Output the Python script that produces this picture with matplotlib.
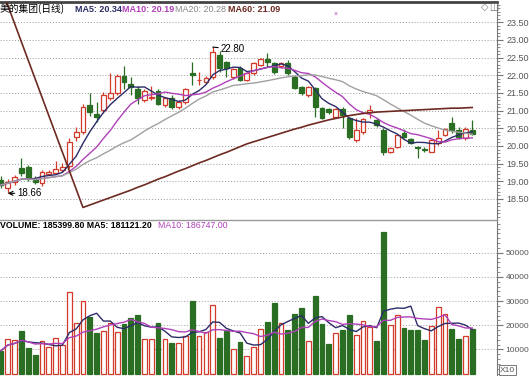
import numpy as np
import pandas as pd
import matplotlib
matplotlib.use("Agg")
import matplotlib.pyplot as plt
from matplotlib.ticker import MultipleLocator, FormatStrFormatter

plt.rcParams['font.family'] = ['Liberation Sans', 'Noto Sans CJK SC', 'DejaVu Sans']

# daily candles, 美的集团
opens  = [19.04, 18.80, 18.98, 19.38, 19.41, 19.07, 18.94, 19.21, 19.24, 19.32,
          19.42, 20.26, 20.40, 21.16, 20.91, 21.02, 21.35, 21.49, 21.98, 21.75,
          21.62, 21.30, 21.35, 21.55, 21.15, 21.35, 21.10, 21.25, 22.07, 21.86,
          21.80, 21.95, 22.58, 22.39, 21.96, 22.20, 21.87, 22.06, 22.29, 22.45,
          22.34, 22.25, 22.34, 21.96, 21.66, 21.44, 21.63, 21.07, 21.04, 20.83,
          21.04, 20.80, 20.17, 20.40, 20.96, 20.74, 20.45, 19.84, 19.98, 20.36,
          20.19, 19.98, 19.91, 19.84, 20.08, 20.31, 20.64, 20.45, 20.22, 20.45]
highs  = [19.15, 19.07, 19.18, 19.66, 19.46, 19.15, 19.32, 19.32, 19.57, 19.52,
          20.23, 20.55, 21.19, 21.50, 21.24, 21.53, 22.06, 22.04, 22.25, 21.95,
          21.70, 21.60, 21.70, 21.62, 21.40, 21.45, 21.30, 21.65, 22.39, 22.10,
          21.98, 22.80, 22.70, 22.40, 22.20, 22.25, 22.10, 22.38, 22.50, 22.62,
          22.38, 22.38, 22.43, 22.00, 21.70, 21.70, 21.66, 21.10, 21.08, 21.08,
          21.10, 20.82, 20.79, 20.80, 21.16, 20.79, 20.50, 19.96, 20.33, 20.47,
          20.22, 20.00, 19.98, 20.20, 20.45, 20.50, 20.83, 20.55, 20.55, 20.74]
lows   = [18.80, 18.66, 18.90, 19.15, 19.00, 18.92, 18.88, 19.17, 19.20, 19.27,
          19.38, 20.15, 20.35, 20.86, 20.69, 20.93, 21.30, 21.43, 21.60, 21.45,
          21.20, 21.25, 21.30, 21.15, 21.10, 21.05, 21.05, 21.20, 21.73, 21.73,
          21.75, 21.90, 22.10, 21.96, 21.90, 21.85, 21.85, 22.00, 22.25, 22.24,
          22.05, 22.20, 22.01, 21.60, 21.45, 21.40, 20.83, 20.75, 20.90, 20.80,
          20.50, 20.20, 20.12, 20.35, 20.79, 20.54, 19.74, 19.80, 19.95, 20.24,
          20.05, 19.65, 19.84, 19.82, 20.03, 20.28, 20.36, 20.19, 20.17, 20.31]
closes = [18.90, 18.99, 19.12, 19.24, 19.07, 18.98, 19.27, 19.26, 19.35, 19.41,
          20.12, 20.40, 21.10, 20.97, 20.83, 21.44, 21.51, 21.98, 21.80, 21.68,
          21.35, 21.55, 21.40, 21.20, 21.35, 21.10, 21.25, 21.60, 22.01, 21.88,
          21.92, 22.65, 22.22, 22.20, 22.17, 21.87, 22.07, 22.34, 22.45, 22.39,
          22.10, 22.34, 22.06, 21.63, 21.49, 21.66, 21.11, 20.80, 20.97, 21.04,
          20.88, 20.26, 20.45, 20.76, 21.02, 20.60, 19.84, 19.93, 20.31, 20.26,
          20.08, 19.94, 19.90, 20.17, 20.22, 20.47, 20.45, 20.26, 20.47, 20.34]
# volume as shown on the axis (x10)
volume = [9440, 14160, 13750, 17600, 10430, 7800, 13330, 10970, 14820, 11800,
          33750, 20780, 29890, 23400, 16900, 17600, 20780, 17050, 20370, 23100,
          24200, 14160, 14160, 20900, 14160, 12500, 12750, 15530, 30000, 15530,
          17300, 28360, 14700, 17600, 10270, 13040, 7120, 10850, 18430, 21200,
          29300, 20900, 17890, 24760, 27000, 13330, 32200, 20500, 12090, 16650,
          17890, 24220, 15940, 21740, 19380, 13460, 58470, 20080, 24220, 18700,
          18010, 18150, 13750, 19670, 27540, 24510, 18430, 14290, 15400, 18560]
# MA60 as drawn by the software (gap at the start)
ma60 = [24.50] + [None] * 11 + [
    18.26, 18.33, 18.40, 18.47, 18.54, 18.61, 18.68, 18.75,
    18.83, 18.90, 18.98, 19.06, 19.13, 19.21, 19.29, 19.36, 19.44, 19.52,
    19.59, 19.67, 19.75, 19.82, 19.90, 19.98, 20.06,
    20.12, 20.18, 20.24, 20.30, 20.36, 20.42, 20.48,
    20.53, 20.59, 20.64, 20.69, 20.74, 20.78, 20.82, 20.86, 20.89, 20.92, 20.94, 20.96,
    20.97, 20.98, 20.99, 21.00, 21.01, 21.02, 21.03, 21.04, 21.05, 21.06, 21.07, 21.07, 21.08, 21.09]

price_ticks = [18.5, 19.0, 19.5, 20.0, 20.5, 21.0, 21.5, 22.0, 22.5, 23.0, 23.5]
vol_ticks = [10000, 20000, 30000, 40000, 50000]

W, H = 529, 376
RED = "#d23a2a"
GREEN = "#2a6e24"
C_MA5, C_MA10, C_MA20, C_MA60 = "#2c2c68", "#b040b8", "#a0a0a0", "#6e2a22"

df = pd.DataFrame({"o": opens, "h": highs, "l": lows, "c": closes, "v": volume})
x = np.arange(len(df))
up = df.c >= df.o

fig = plt.figure(figsize=(W / 100, H / 100), dpi=100)
fig.patch.set_facecolor("white")

def fx(px):
    return px / W

def fy(py):
    return 1 - py / H

ax = fig.add_axes([0, fy(220), fx(497), (220 - 2) / H])
axv = fig.add_axes([0, 0, fx(497), 156 / H])

xlim = (-1 / 6.83, 496 / 6.83)

# --- price panel
for i in x:
    col = RED if up[i] else GREEN
    ax.vlines(i, df.l[i], df.h[i], color=col, lw=0.9, zorder=2)
    lo, hi = sorted([df.o[i], df.c[i]])
    hgt = max(hi - lo, 0.012)
    ax.bar(i, hgt, bottom=lo, width=0.7, facecolor="white" if up[i] else col,
           edgecolor=col, lw=0.9, zorder=3)

ax.plot(x, df.c.rolling(5, min_periods=1).mean(), color=C_MA5, lw=1.0, zorder=4)
ax.plot(x, df.c.rolling(10, min_periods=1).mean(), color=C_MA10, lw=1.0, zorder=4)
ax.plot(x, df.c.rolling(20, min_periods=1).mean(), color=C_MA20, lw=1.0, zorder=4)
m60 = pd.Series(ma60, dtype=float)
ok = m60.notna()
ax.plot(x[ok], m60[ok], color=C_MA60, lw=1.2, zorder=4)

ax.annotate("18.66", xy=(1, 18.66), xytext=(2.4, 18.66), fontsize=7,
            va="center", ha="left",
            arrowprops=dict(arrowstyle="->", lw=0.8, color="black", shrinkA=0, shrinkB=0))
ax.annotate("22.80", xy=(31, 22.80), xytext=(32.2, 22.74), fontsize=7,
            va="center", ha="left",
            arrowprops=dict(arrowstyle="-", lw=0.8, color="black", shrinkA=0, shrinkB=0))

ax.set_xlim(xlim)
ax.set_ylim(23 - 180 / 35.33, 23 + 38 / 35.33)
ax.set_yticks(price_ticks)
ax.yaxis.set_minor_locator(MultipleLocator(0.1))
ax.yaxis.set_major_formatter(FormatStrFormatter("%.2f"))

# --- volume panel
for i in x:
    col = RED if up[i] else GREEN
    axv.bar(i, df.v[i], width=0.7, facecolor="white" if up[i] else col,
            edgecolor=col, lw=0.9, zorder=3)
axv.plot(x, df.v.rolling(5, min_periods=1).mean(), color=C_MA5, lw=1.0, zorder=4)
axv.plot(x, df.v.rolling(10, min_periods=1).mean(), color=C_MA10, lw=1.0, zorder=4)
axv.set_xlim(xlim)
axv.set_ylim((373.5 - 376) / 24.15 * 10000, (373.5 - 220) / 24.15 * 10000)
axv.set_yticks(vol_ticks)
axv.yaxis.set_minor_locator(MultipleLocator(2000))
axv.yaxis.set_major_formatter(FormatStrFormatter("%d"))

for a in (ax, axv):
    a.set_facecolor("white")
    a.yaxis.tick_right()
    a.set_xticks([])
    for s in ("left", "bottom"):
        a.spines[s].set_visible(False)
    a.spines["right"].set_color("#777777")
    a.spines["top"].set_color("#999999")
    a.spines["top"].set_linewidth(1.0)
    a.tick_params(axis="y", which="major", length=4, color="#777777",
                  labelsize=6.5, labelcolor="#555555", pad=3)
    a.tick_params(axis="y", which="minor", length=2, color="#777777")
    a.grid(axis="y", which="major", linestyle=(0, (1, 2)), color="#999999", lw=0.7)
    a.set_axisbelow(True)
axv.tick_params(axis="y", which="major", labelsize=6, pad=2)
ax.spines["top"].set_color("#444444")
ax.spines["top"].set_linewidth(2)

# headers
fig.text(fx(0), fy(9), "美的集团(日线)", fontsize=7, va="center", ha="left",
         family=["Noto Sans CJK SC"])
fig.text(fx(75), fy(9), "MA5: 20.34", fontsize=6.5, va="center", color=C_MA5, weight="bold")
fig.text(fx(122), fy(9), "MA10: 20.19", fontsize=6.5, va="center", color=C_MA10, weight="bold")
fig.text(fx(175), fy(9), "MA20: 20.28", fontsize=6.5, va="center", color="#888888")
fig.text(fx(228), fy(9), "MA60: 21.09", fontsize=6.5, va="center", color=C_MA60, weight="bold")
fig.text(fx(0), fy(226), "VOLUME: 185399.80 MA5: 181121.20", fontsize=6.3, va="center",
         weight="bold")
fig.text(fx(158), fy(226), "MA10: 186747.00", fontsize=6.3, va="center", color=C_MA10)
fig.text(fx(481), fy(7), "◇", fontsize=7, va="center", color="#777777", family=["DejaVu Sans"])
fig.text(fx(489), fy(7), "◫", fontsize=7, va="center", color="#777777", family=["DejaVu Sans"])
fig.text(fx(336), fy(14), "×", fontsize=5, va="center", ha="center", color=C_MA10)
fig.text(fx(500), fy(370), "X10", fontsize=6, va="center", ha="left", color="#555555",
         bbox=dict(boxstyle="square,pad=0.15", fc="white", ec="#777777", lw=0.7))

fig.savefig("out.png", dpi=100)
